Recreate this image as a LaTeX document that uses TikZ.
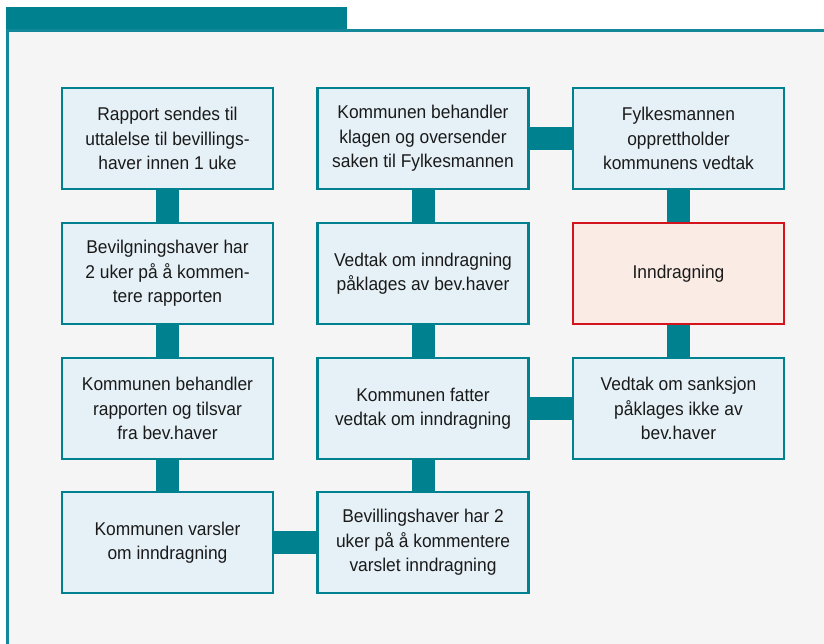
\documentclass[tikz,border=0pt]{standalone}
\usepackage{fontspec}
\setmainfont{Liberation Sans}[FakeStretch=0.94]
\definecolor{teal1}{HTML}{00818F}
\definecolor{frameline}{HTML}{13889A}
\definecolor{bgfill}{HTML}{F5F5F5}
\definecolor{boxfill}{HTML}{E6F1F7}
\definecolor{redline}{HTML}{D3141C}
\definecolor{redfill}{HTML}{FBEBE5}
\definecolor{txt}{HTML}{1A1A1A}
\tikzset{
  stepbox/.style={draw=teal1, line width=2.4pt, fill=boxfill, minimum width=211pt, minimum height=101pt,
    inner sep=0pt, align=center, text=txt, font=\fontsize{18.5}{24.5}\selectfont},
  redbox/.style={stepbox, draw=redline, fill=redfill},
  conn/.style={draw=teal1, line width=23pt}
}
\begin{document}
\begin{tikzpicture}[x=1pt,y=1pt]
\useasboundingbox (0,0) rectangle (824,643);
\fill[white] (0,0) rectangle (824,643);
\draw[frameline, line width=2.6pt, fill=bgfill] (7.3,-20) rectangle (840,612.5);
\fill[teal1] (6,613.5) rectangle (347,636);
% column 1
\node[stepbox] (a1) at (167.5,504.5) {Rapport sendes til\\uttalelse til bevillings-\\haver innen 1 uke};
\node[stepbox] (a2) at (167.5,369.5) {Bevilgningshaver har\\2 uker på å kommen-\\tere rapporten};
\node[stepbox] (a3) at (167.5,234.5) {Kommunen behandler\\rapporten og tilsvar\\fra bev.haver};
\node[stepbox] (a4) at (167.5,100.5) {Kommunen varsler\\om inndragning};
% column 2
\node[stepbox] (b1) at (423,504.5) {Kommunen behandler\\klagen og oversender\\saken til Fylkesmannen};
\node[stepbox] (b2) at (423,369.5) {Vedtak om inndragning\\påklages av bev.haver};
\node[stepbox] (b3) at (423,234.5) {Kommunen fatter\\vedtak om inndragning};
\node[stepbox] (b4) at (423,100.5) {Bevillingshaver har 2\\uker på å kommentere\\varslet inndragning};
% column 3
\node[stepbox] (c1) at (678.5,504.5) {Fylkesmannen\\opprettholder\\kommunens vedtak};
\node[redbox] (c2) at (678.5,369.5) {Inndragning};
\node[stepbox] (c3) at (678.5,234.5) {Vedtak om sanksjon\\påklages ikke av\\bev.haver};
% connectors
\draw[conn] (a1.south) -- (a2.north);
\draw[conn] (a2.south) -- (a3.north);
\draw[conn] (a3.south) -- (a4.north);
\draw[conn] (a4.east) -- (b4.west);
\draw[conn] (b4.north) -- (b3.south);
\draw[conn] (b3.north) -- (b2.south);
\draw[conn] (b2.north) -- (b1.south);
\draw[conn] (b1.east) -- (c1.west);
\draw[conn] (c1.south) -- (c2.north);
\draw[conn] (c2.south) -- (c3.north);
\draw[conn] (b3.east) -- (c3.west);
\end{tikzpicture}
\end{document}
